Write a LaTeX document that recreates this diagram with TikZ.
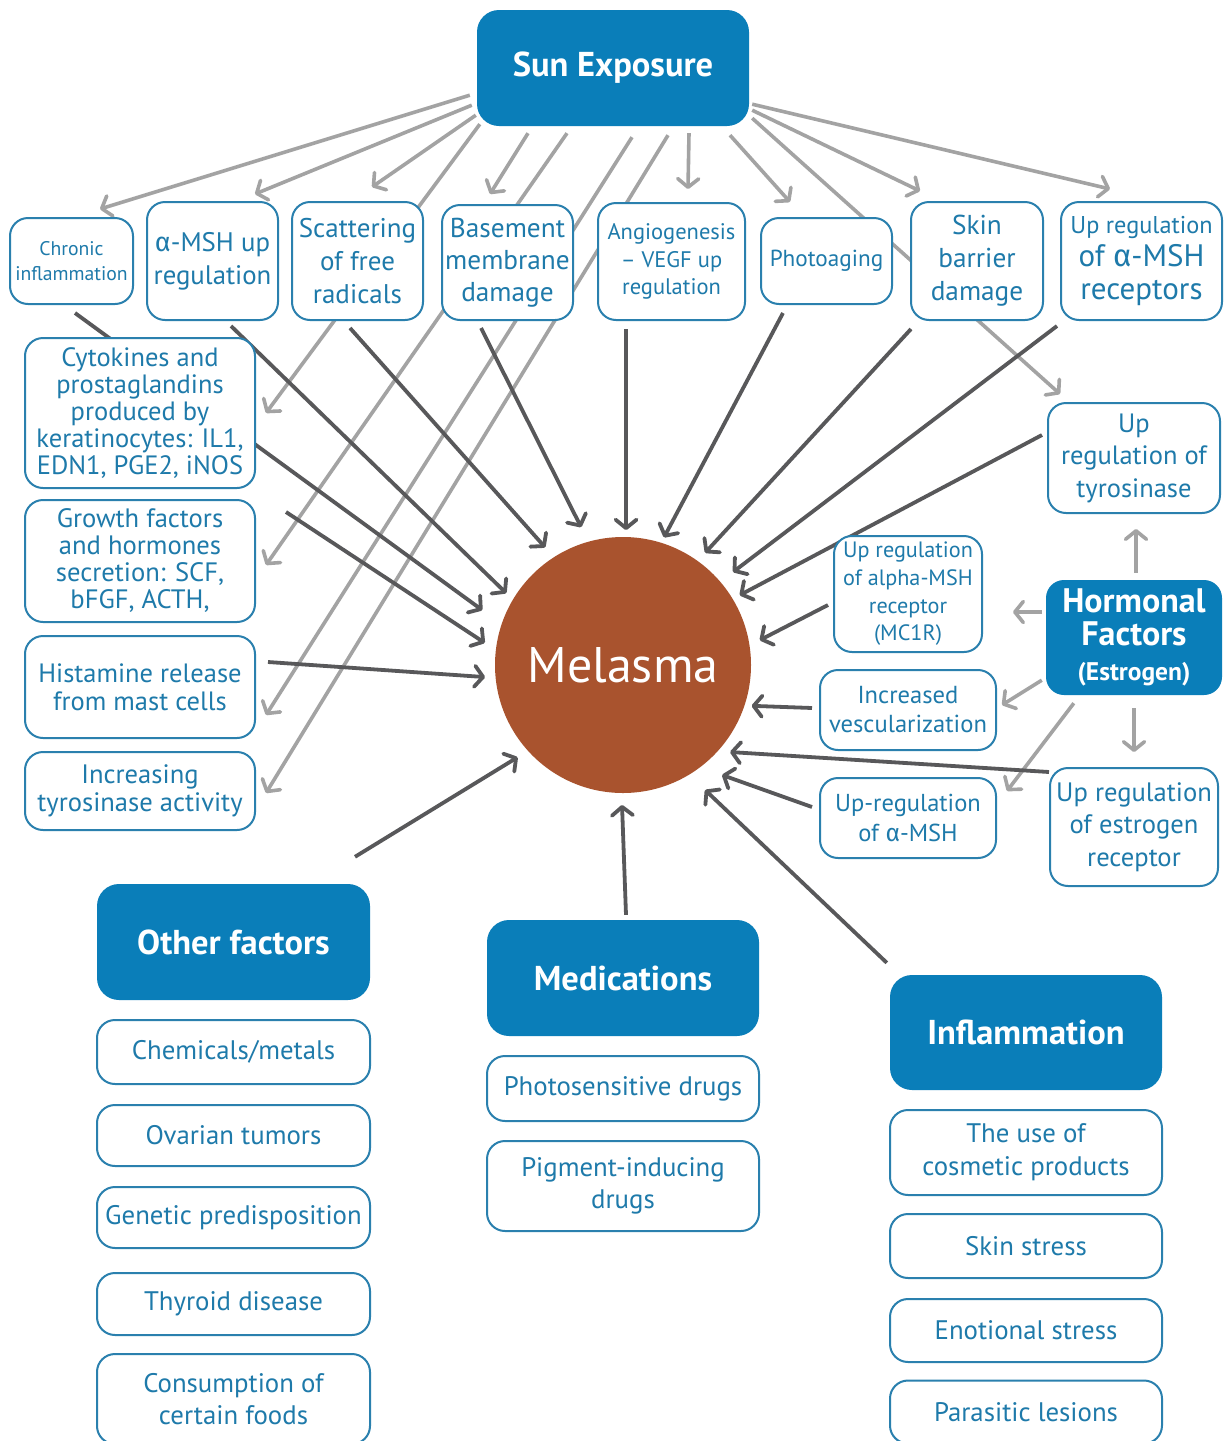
\documentclass[tikz,border=0pt]{standalone}
\usepackage{fontspec}
\setmainfont{PT Sans}
\newfontfamily\grkfont{Fira Sans}
\usetikzlibrary{arrows.meta,calc}
\definecolor{bfill}{HTML}{0A7EB9}
\definecolor{bord}{HTML}{2A80AE}
\definecolor{txt}{HTML}{1E7AAA}
\definecolor{melc}{HTML}{A9532E}
\definecolor{dkg}{HTML}{58585A}
\definecolor{ltg}{HTML}{A3A3A3}
\newcommand\fs[2]{\fontsize{#1}{#2}\selectfont}
\newcommand\alp{{\grkfont α}}
\pgfdeclarelayer{bgw}\pgfdeclarelayer{lite}\pgfdeclarelayer{dark}
\pgfsetlayers{bgw,lite,dark,main}
\tikzset{
  wh/.style 2 args={minimum width=#1pt, minimum height=#2pt},
  box/.style={draw=bord, line width=2pt, fill=white, rounded corners=18pt, text=txt, align=center, inner sep=0pt},
  fbox/.style={fill=bfill, rounded corners=22pt, text=white, align=center, inner sep=0pt},
  dk/.style={draw=dkg, line width=3.8pt, -{Straight Barb[length=8.5pt,width=21pt,round]}},
  lt/.style={draw=ltg, line width=3.6pt, -{Straight Barb[length=8.5pt,width=21pt,round]}},
}
\begin{document}
\begin{tikzpicture}[x=1pt,y=1pt]
\path[use as bounding box] (0,0) rectangle (1229,-1441);
\begin{pgfonlayer}{bgw}\fill[white] (0,0) rectangle (1229,-1441);\end{pgfonlayer}
\clip (0,0) rectangle (1229,-1441);

% ---- main hubs
\node[fbox, wh={272}{116}, font=\bfseries\fs{34.5}{40}] (sun) at (613,-68) {Sun Exposure};
\node[circle, fill=melc, minimum size=256pt, inner sep=0pt, text=white, font=\fs{50}{54}] (mel) at (623,-665) {Melasma};

% ---- top row
\node[box, wh={123}{86}, font=\fs{19.7}{25}] (chronic) at (71.5,-261) {Chronic\\inflammation};
\node[box, wh={131}{118}, font=\fs{26.8}{33}] (amsh) at (212.5,-261) {\alp-MSH up\\regulation};
\node[box, wh={131}{118}, font=\fs{27}{33}] (scat) at (357.5,-261) {Scattering\\of free\\radicals};
\node[box, wh={131}{115}, font=\fs{27.3}{32}] (base) at (507.5,-262.5) {Basement\\membrane\\damage};
\node[box, wh={147}{117}, font=\fs{22.5}{27.5}] (angio) at (671.5,-261.5) {Angiogenesis\\– VEGF up\\regulation};
\node[box, wh={131}{86}, font=\fs{23.2}{27}] (photo) at (826.5,-261) {Photoaging};
\node[box, wh={132}{118}, font=\fs{27.3}{33}] (skin) at (977,-261) {Skin\\barrier\\damage};
\node[box, wh={161}{118}, font=\fs{31}{33}] (uprec) at (1141.5,-261) {{\fs{24.3}{33}Up regulation}\\of \alp-MSH\\receptors};

% ---- left column
\node[box, wh={230}{150}, font=\fs{26.5}{27}] (cyto) at (140,-413) {Cytokines and\\prostaglandins\\produced by\\keratinocytes: IL1,\\EDN1, PGE2, iNOS};
\node[box, wh={230}{122}, font=\fs{26.6}{27}] (growth) at (140,-561) {Growth factors\\and hormones\\secretion: SCF,\\bFGF, ACTH,};
\node[box, wh={230}{102}, font=\fs{26.5}{28}] (hist) at (140,-687) {Histamine release\\from mast cells};
\node[box, wh={230}{78}, font=\fs{26.6}{28}] (incr) at (140,-791) {Increasing\\tyrosinase activity};

% ---- right side
\node[box, wh={172}{110}, font=\fs{26.5}{32.5}] (uptyr) at (1134,-458) {Up\\regulation of\\tyrosinase};
\node[fbox, rounded corners=18pt, wh={176}{115}, font=\bfseries\fs{34}{33}] (horm) at (1134,-637.5) {Hormonal\\Factors\\[2pt]{\fs{25.5}{30}(Estrogen)}};
\node[box, wh={148}{116}, font=\fs{22.2}{27.7}] (mc1r) at (908,-594) {Up regulation\\of alpha-MSH\\receptor\\(MC1R)};
\node[box, wh={176}{80}, font=\fs{24.6}{29}] (vesc) at (908,-710) {Increased\\vescularization};
\node[box, wh={176}{80}, font=\fs{24.5}{30}] (upa) at (908,-818) {Up-regulation\\of \alp-MSH};
\node[box, wh={168}{118}, font=\fs{26.6}{32.5}] (estr) at (1134,-827) {Up regulation\\of estrogen\\receptor};

% ---- bottom groups
\node[fbox, wh={273}{116}, font=\bfseries\fs{34.5}{40}] (other) at (233.5,-942) {Other factors};
\node[box, wh={273}{64}, font=\fs{26.8}{32}] (chem) at (233.5,-1052) {Chemicals/metals};
\node[box, wh={273}{61}, font=\fs{26.8}{32}] (ovar) at (233.5,-1135.5) {Ovarian tumors};
\node[box, wh={273}{61}, font=\fs{26.8}{32}] (gen) at (233.5,-1217.5) {Genetic predisposition};
\node[box, wh={273}{62}, font=\fs{26.8}{32}] (thyr) at (233.5,-1304) {Thyroid disease};
\node[box, wh={273}{90}, font=\fs{26.8}{32}] (cons) at (233.5,-1399) {Consumption of\\certain foods};

\node[fbox, wh={272}{116}, font=\bfseries\fs{34.5}{40}] (med) at (623,-978) {Medications};
\node[box, wh={272}{65}, font=\fs{26.8}{32}] (photos) at (623,-1088.5) {Photosensitive drugs};
\node[box, wh={272}{90}, font=\fs{26.8}{32}] (pig) at (623,-1186) {Pigment-inducing\\drugs};

\node[fbox, wh={272}{115}, font=\bfseries\fs{34.5}{40}] (infl) at (1026,-1032.5) {Inflammation};
\node[box, wh={272}{85}, font=\fs{26.8}{33}] (cosm) at (1026,-1152.5) {The use of\\cosmetic products};
\node[box, wh={272}{64}, font=\fs{26.8}{32}] (sstress) at (1026,-1246) {Skin stress};
\node[box, wh={272}{63}, font=\fs{26.8}{32}] (emo) at (1026,-1330.5) {Enotional stress};
\node[box, wh={272}{63}, font=\fs{26.8}{32}] (para) at (1026,-1412) {Parasitic lesions};

% ---- light grey arrows (sun exposure and hormonal factors)
\begin{pgfonlayer}{lite}
\draw[lt] ($(sun.south west)+(-7,31)$) -- ($(chronic.north)+(28.5,8)$);
\draw[lt] ($(sun.south west)+(-5,21)$) -- ($(amsh.north)+(42.5,7)$);
\draw[lt] ($(sun.south west)+(-1,11)$) -- ($(scat.north)+(14.5,14)$);
\draw[lt] ($(sun.south west)+(3,2)$) -- ($(cyto.east)+(10,0)$);
\draw[lt] ($(sun.south)+(-85,-7)$) -- ($(base.north)+(-17.5,10)$);
\draw[lt] ($(sun.south)+(-46,-7)$) -- ($(growth.east)+(10,-4)$);
\draw[lt] ($(sun.south)+(19,-11)$) -- ($(hist.east)+(10,-28)$);
\draw[lt] ($(sun.south)+(55,-9)$) -- ($(incr.east)+(10,-2)$);
\draw[lt] ($(sun.south)+(76,-7)$) -- ($(angio.north)+(16.5,13)$);
\draw[lt] ($(sun.south)+(117,-9)$) -- ($(photo.north)+(-36.5,15)$);
\draw[lt] ($(sun.south east)+(3,8)$) -- ($(uptyr.north)+(-74,8)$);
\draw[lt] ($(sun.south east)+(3,16)$) -- ($(skin.north)+(-57,10)$);
\draw[lt] ($(sun.south east)+(3,22)$) -- ($(uprec.north)+(-31.5,12)$);
\draw[lt] ($(horm.north)+(2,7)$) -- ($(uptyr.south)+(2,-15)$);
\draw[lt] ($(horm.west)+(-4,25.5)$) -- ($(mc1r.east)+(30,-18)$);
\draw[lt] ($(horm.south west)+(-4,15)$) -- ($(vesc.east)+(5,5)$);
\draw[lt] ($(horm.south west)+(28,-8)$) -- ($(upa.north east)+(10,-14)$);
\draw[lt] ($(horm.south)+(0,-13)$) -- ($(estr.north)+(0,15)$);
\end{pgfonlayer}

% ---- dark grey arrows into Melasma
\begin{pgfonlayer}{dark}
\draw[dk] ($(chronic.south)+(3.5,-8)$) -- ($(mel)+(158.7:151pt)$);
\draw[dk] ($(amsh.south)+(18.5,-5)$) -- ($(mel)+(148.4:137pt)$);
\draw[dk] ($(scat.south)+(-7.5,-7)$) -- ($(mel)+(123.5:141pt)$);
\draw[dk] ($(base.south)+(-26.5,-7)$) -- ($(mel)+(106.9:144pt)$);
\draw[dk] ($(growth.north east)+(30,-13)$) -- ($(mel)+(170.9:140pt)$);
\draw[dk] ($(hist.east)+(12,25)$) -- ($(mel)+(185:138.5pt)$);
\draw[dk] ($(other.north)+(121.5,27)$) -- ($(mel)+(221.2:140pt)$);
\draw[dk] ($(med.north)+(3,5)$) -- ($(mel)+(269.6:140pt)$);
\draw[dk] ($(infl.north west)+(-3,12)$) -- ($(mel)+(303.3:149.5pt)$);
\draw[dk] ($(angio.south)+(-45.5,-8)$) -- ($(mel)+(88.7:135pt)$);
\draw[dk] ($(photo.south)+(-43.5,-8)$) -- ($(mel)+(72.2:134pt)$);
\draw[dk] ($(skin.south)+(-66,-8)$) -- ($(mel)+(53.8:139pt)$);
\draw[dk] ($(uprec.south)+(-84.5,-5)$) -- ($(mel)+(40.2:144pt)$);
\draw[dk] ($(uptyr.west)+(-5,23)$) -- ($(mel)+(30.9:136pt)$);
\draw[dk] ($(mc1r.west)+(-5,-11)$) -- ($(mel)+(10.3:139pt)$);
\draw[dk] ($(vesc.west)+(-7,2)$) -- ($(mel)+(-17.6:135pt)$);
\draw[dk] ($(estr.north west)+(0,-5)$) -- ($(mel)+(-39.1:138pt)$);
\draw[dk] ($(upa.west)+(-7,11)$) -- ($(mel)+(-48:148pt)$);
\end{pgfonlayer}
\end{tikzpicture}
\end{document}
